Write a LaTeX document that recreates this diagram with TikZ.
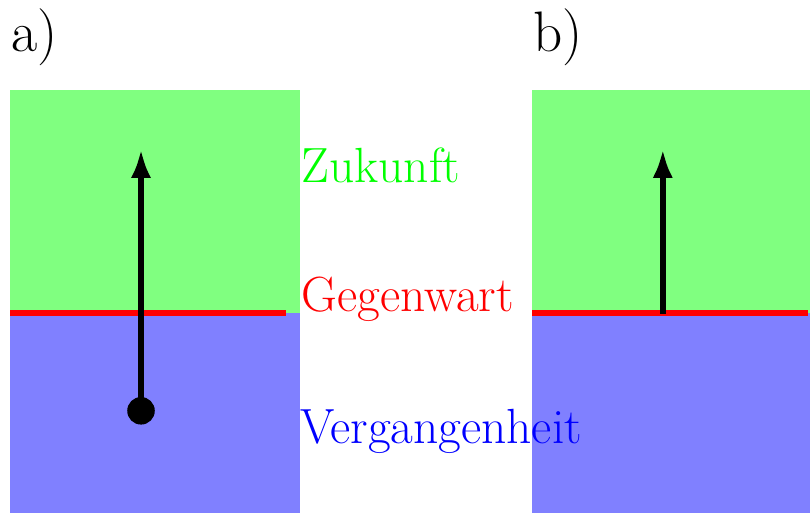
\documentclass[tikz,border=0pt]{standalone}
\usetikzlibrary{arrows.meta, positioning}
\tikzset{
  zone/.style={draw=none, fill=#1!50},
  now/.style={draw=red, line width=2pt},
  timearrow/.style={-{Latex[length=0.4cm, width=0.28cm]}, line width=2.5pt},
  era/.style={anchor=base west, inner sep=0pt, font=\fontsize{19.4}{23}\selectfont, text=#1},
  panel/.style={anchor=base west, inner sep=0pt, font=\fontsize{22.4}{27}\selectfont},
}
\begin{document}
\begin{tikzpicture}
  \useasboundingbox (0,0) rectangle (11.172,-7.076);
  % a) time zones
  \fill[zone=green] (0.138,-1.241) rectangle (4.138,-4.317);
  \fill[zone=blue] (0.138,-4.317) rectangle (4.138,-7.076);
  \draw[now] (0.138,-4.317) -- (3.938,-4.317);
  % b) time zones
  \fill[zone=green] (7.338,-1.241) rectangle (11.172,-4.317);
  \fill[zone=blue] (7.338,-4.317) rectangle (11.172,-7.076);
  \draw[now] (7.338,-4.317) -- (11.145,-4.317);
  % labels
  \node[panel] (la) at (0.152,-0.717) {a)};
  \node[panel] (lb) at (7.352,-0.717) {b)};
  \node[era=green] (fut) at (4.152,-2.514) {Zukunft};
  \node[era=red] (pres) at (4.152,-4.303) {Gegenwart};
  \node[era=blue] (past) at (4.131,-6.114) {Vergangenheit};
  % arrows
  \node[circle, fill=black, inner sep=0pt, minimum size=0.38cm] (starta) at (1.945,-5.666) {};
  \coordinate (tipa) at (1.945,-2.055);
  \draw[timearrow] (starta.center) -- (tipa);
  \coordinate (startb) at (9.142,-4.33);
  \coordinate (tipb) at (9.142,-2.055);
  \draw[timearrow] (startb) -- (tipb);
\end{tikzpicture}
\end{document}
